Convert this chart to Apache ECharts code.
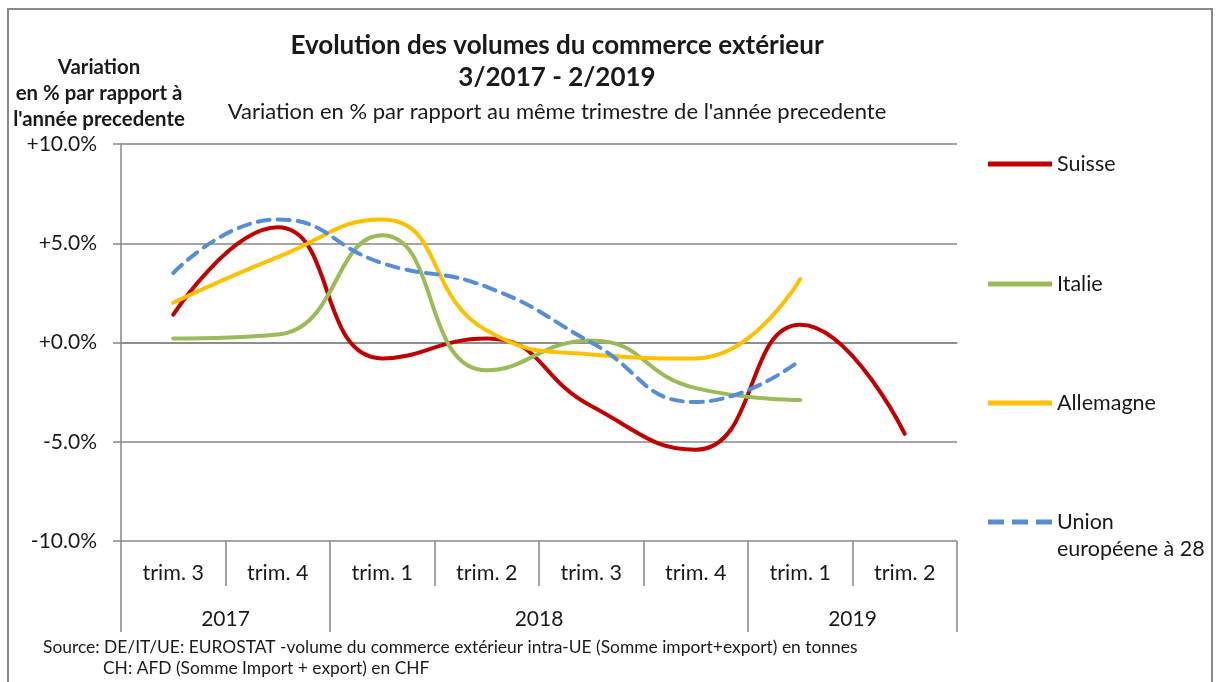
<!DOCTYPE html>
<html>
<head>
<meta charset="utf-8">
<script src="https://cdn.jsdelivr.net/npm/echarts@6/dist/echarts.min.js"></script>
<style>
	html, body { margin: 0; padding: 0; background: #fff; }
	#chart { width: 1218px; height: 682px; }
</style>
</head>
<body>
<div id="chart"></div>
<script>
const quarters = ['trim. 3', 'trim. 4', 'trim. 1', 'trim. 2', 'trim. 3', 'trim. 4', 'trim. 1', 'trim. 2'];
const years = ['2017', '2018', '2019'];
const yearCenters = [1, 4, 7];     // middle of each year span, in quarter units
const yearBounds = [0, 2, 6, 8];   // year dividers, in quarter units
const quarterBounds = [0, 1, 2, 3, 4, 5, 6, 7, 8];

const suisse = [1.4, 5.8, -0.8, 0.2, -3.2, -5.4, 0.9, -4.6];
const italie = [0.2, 0.4, 5.4, -1.4, 0.1, -2.3, -2.9, null];
const allemagne = [2.0, 4.3, 6.2, 0.6, -0.6, -0.8, 3.2, null];
const unionEU = [3.5, 6.2, 4.0, 2.8, 0.0, -3.0, -0.9, null];

const FONT = 'Lato, "Noto Sans", sans-serif';
const GRID = '#878787';
const TXT = '#1a1a1a';

const SOLID_ICON = 'path://M0,0h64v5h-64z';
const DASH_ICON = 'path://M0,0h16v5h-16z M24,0h16v5h-16z M48,0h16v5h-16z';

function lineSeries(name, data, color, dashed) {
	return {
		name: name,
		type: 'line',
		data: data,
		smooth: 0.5,
		symbol: 'none',
		showSymbol: false,
		lineStyle: {
			color: color,
			width: 4,
			cap: 'round',
			type: dashed ? [12, 8] : 'solid'
		},
		itemStyle: { color: color }
	};
}

function legendAt(name, top, icon) {
	return {
		data: [{ name: name, icon: icon }],
		orient: 'vertical',
		left: 988,
		top: top,
		padding: 0,
		itemWidth: 64,
		itemHeight: 5,
		itemGap: 0,
		selectedMode: false,
		formatter: n => n.split(' ')[0],
		textStyle: { fontFamily: FONT, fontSize: 21.5, color: TXT }
	};
}

function label(text, x, y, size, bold, align) {
	return {
		type: 'text',
		x: x,
		y: y,
		silent: true,
		style: {
			text: text,
			fontFamily: FONT,
			fontSize: size,
			fontWeight: bold ? 'bold' : 'normal',
			fill: TXT,
			textAlign: align || 'center',
			textVerticalAlign: 'middle'
		}
	};
}

const chart = echarts.init(document.getElementById('chart'));
chart.setOption({
	animation: false,
	backgroundColor: '#fff',
	grid: { left: 121, right: 261, top: 144, bottom: 141 },
	legend: [
		legendAt('Suisse', 153, SOLID_ICON),
		legendAt('Italie', 273, SOLID_ICON),
		legendAt('Allemagne', 392, SOLID_ICON),
		legendAt('Union européene à 28', 511, DASH_ICON)
	],
	xAxis: [
		{
			type: 'category',
			data: quarters,
			boundaryGap: true,
			axisLine: { lineStyle: { color: GRID, width: 1.5 } },
			axisTick: { show: false },
			axisLabel: { interval: 0, margin: 21, fontFamily: FONT, fontSize: 21.5, color: TXT }
		},
		{
			// quarter dividers
			type: 'value',
			position: 'bottom',
			min: 0,
			max: 8,
			axisLine: { show: false },
			splitLine: { show: false },
			axisLabel: { show: false },
			axisTick: { show: true, customValues: quarterBounds, length: 45, lineStyle: { color: GRID, width: 1.5 } }
		},
		{
			// year row
			type: 'value',
			position: 'bottom',
			min: 0,
			max: 8,
			axisLine: { show: false },
			splitLine: { show: false },
			axisTick: { show: true, customValues: yearBounds, length: 91, lineStyle: { color: GRID, width: 1.5 } },
			axisLabel: {
				customValues: yearCenters,
				margin: 68,
				fontFamily: FONT,
				fontSize: 21,
				color: TXT,
				formatter: v => years[yearCenters.indexOf(v)]
			}
		}
	],
	yAxis: {
		type: 'value',
		min: -10,
		max: 10,
		interval: 5,
		axisLine: { show: true, lineStyle: { color: GRID, width: 1.5 } },
		axisTick: { show: true, length: 8, lineStyle: { color: GRID, width: 1.5 } },
		splitLine: { lineStyle: { color: GRID, width: 1.5 } },
		axisLabel: {
			margin: 24,
			fontFamily: FONT,
			fontSize: 21,
			color: TXT,
			formatter: v => (v >= 0 ? '+' : '') + v.toFixed(1) + '%'
		}
	},
	series: [
		lineSeries('Suisse', suisse, '#C00000', false),
		lineSeries('Italie', italie, '#9BBB59', false),
		lineSeries('Allemagne', allemagne, '#FFC000', false),
		lineSeries('Union européene à 28', unionEU, '#558ED5', true)
	],
	graphic: [
		{
			type: 'rect',
			silent: true,
			shape: { x: 8, y: 9, width: 1204, height: 690 },
			style: { fill: 'none', stroke: '#8a8a8a', lineWidth: 2 }
		},
		label('Evolution des volumes du commerce extérieur', 557, 46, 26, true),
		label('3/2017 - 2/2019', 557, 78, 26, true),
		label("Variation en % par rapport au même trimestre de l'année precedente", 557, 112, 22, false),
		label('Variation', 99, 67, 20.4, true),
		label('en % par rapport à', 99, 93, 20.4, true),
		label("l'année precedente", 99, 119, 20.4, true),
		label('européene à 28', 1057, 549, 21.5, false, 'left'),
		label('Source: DE/IT/UE: EUROSTAT -volume du commerce extérieur intra-UE (Somme import+export) en tonnes', 43, 647, 17.4, false, 'left'),
		label('CH: AFD (Somme Import + export) en CHF', 103, 668, 17.4, false, 'left')
	]
});
</script>
</body>
</html>
